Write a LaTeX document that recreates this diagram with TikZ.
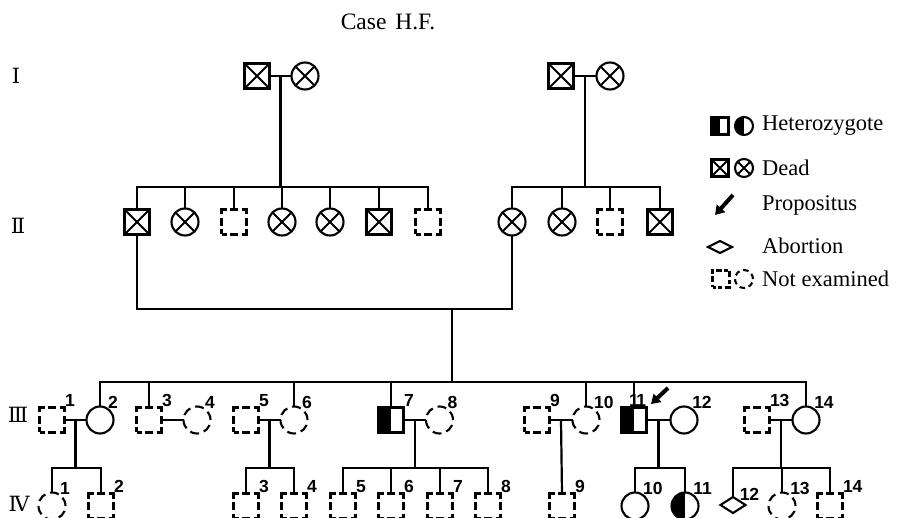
\documentclass[tikz,border=0pt]{standalone}
\usepackage{fontspec}
\setmainfont{Liberation Serif}
\newfontfamily\numfont{Liberation Sans}
\newfontfamily\romfont{DejaVu Serif}
\usetikzlibrary{calc,arrows.meta,shapes.geometric}

\tikzset{
  person/.style={draw, line width=2.1pt, inner sep=0pt, outer sep=0pt},
  male/.style={person, rectangle, minimum size=25pt},
  female/.style={person, circle, minimum size=27pt},
  xcross/.style={path picture={\draw[line width=1.8pt]
      (path picture bounding box.north west)--(path picture bounding box.south east)
      (path picture bounding box.north east)--(path picture bounding box.south west);}},
  halfblack/.style={path picture={\fill (path picture bounding box.south west) rectangle (path picture bounding box.north);}},
  deadm/.style={male, xcross, line width=2.8pt},
  deadf/.style={female, xcross},
  hetm/.style={male, halfblack},
  hetf/.style={female, halfblack},
  nexm/.style={male, dash pattern=on 10pt off 3.5pt on 8pt off 3.5pt, dash phase=5pt},
  nexf/.style={female, dash pattern=on 9pt off 5.1pt},
  abort/.style={person, diamond, aspect=1.5, minimum width=25pt, minimum height=16pt},
  num/.style={font=\numfont\bfseries\fontsize{17.5}{18}\selectfont, inner sep=0.3pt},
  link/.style={line width=2.2pt},
  prop/.style={line width=4pt, -{Triangle[width=11pt,length=9pt]}},
  gen/.style={font=\romfont\fontsize{21}{22}\selectfont, inner sep=0pt},
  title/.style={font=\fontsize{23.5}{26}\selectfont, inner sep=0pt},
  % legend
  keym/.style={person, rectangle, minimum size=17pt},
  keyf/.style={person, circle, minimum size=18pt},
  keytext/.style={font=\fontsize{22.5}{24}\selectfont, anchor=west, inner sep=0pt},
}

\begin{document}
\begin{tikzpicture}[x=1pt, y=-1pt]
\useasboundingbox (0,0) rectangle (900,518);

\node[title] (title) at (388,22) {Case\hspace{3pt} H.F.};

% generations
\node[gen] (gI) at (16,76) {Ⅰ};
\node[gen] (gII) at (18,226) {Ⅱ};
\node[gen] (gIII) at (18,415) {Ⅲ};
\node[gen] (gIV) at (19,504) {Ⅳ};

% I
\node[deadm] (Ia) at (257,76) {};
\node[deadf] (Ib) at (305,76) {};
\node[deadm] (Ic) at (561,76) {};
\node[deadf] (Id) at (610,76) {};
\draw[link] (Ia) -- (Ib);
\draw[link] (Ic) -- (Id);
\coordinate (mIl) at ($(Ia.east)!.5!(Ib.west)$);
\coordinate (mIr) at ($(Ic.east)!.5!(Id.west)$);
\coordinate (sII) at (0,187);

% II
\node[deadm] (IIa) at (137,222) {};
\node[deadf] (IIb) at (185,222) {};
\node[nexm] (IIc) at (234,222) {};
\node[deadf] (IId) at (282,222) {};
\node[deadf] (IIe) at (330,222) {};
\node[deadm] (IIf) at (379,222) {};
\node[nexm] (IIg) at (428,222) {};
\node[deadf] (IIh) at (512,222) {};
\node[deadf] (IIi) at (562,222) {};
\node[nexm] (IIj) at (610,222) {};
\node[deadm] (IIk) at (660,222) {};
\draw[link] (mIl) -- (mIl |- sII);
\draw[link] (mIr) -- (mIr |- sII);
\draw[link] (IIa.north) |- (mIl |- sII) -| (IIg.north);
\draw[link] (IIh.north) |- (mIr |- sII) -| (IIk.north);
\foreach \c in {IIb,IIc,IId,IIe,IIf,IIi,IIj}
  \draw[link] (\c.north) -- (\c.north |- sII);

\coordinate (mII) at (452,309);
\coordinate (sIII) at (452,382);
\draw[link] (IIa.south) |- (mII) -| (IIh.south);
\draw[link] (mII) -- (sIII);

% III
\node[nexm, label={[num]north east:1}] (III1) at (52,420) {};
\node[female, label={[num]55:2}] (III2) at (100,420) {};
\node[nexm, label={[num]north east:3}] (III3) at (149,420) {};
\node[nexf, label={[num]55:4}] (III4) at (197,420) {};
\node[nexm, label={[num]north east:5}] (III5) at (246,420) {};
\node[nexf, label={[num]55:6}] (III6) at (294,420) {};
\node[hetm, label={[num]north east:7}] (III7) at (391,420) {};
\node[nexf, label={[num]55:8}] (III8) at (439.5,420) {};
\node[nexm, label={[num]north east:9}] (III9) at (537,420) {};
\node[nexf, label={[num]55:10}] (III10) at (586,420) {};
\node[hetm, label={[num,anchor=south east]north east:1\kern-2.5pt 1}] (III11) at (634,420) {};
\node[female, label={[num]55:12}] (III12) at (684,420) {};
\node[nexm, label={[num]north east:13}] (III13) at (757,420) {};
\node[female, label={[num]55:14}] (III14) at (806,420) {};
\draw[link] (III2.north) |- (sIII) -| (III14.north);
\foreach \c in {III3,III6,III7,III10,III11}
  \draw[link] (\c.north) -- (\c.north |- sIII);
\foreach \a/\b in {1/2,3/4,5/6,7/8,9/10,11/12,13/14} {
  \draw[link] (III\a.east) -- (III\b.west);
  \coordinate (m\a) at ($(III\a.east)!.5!(III\b.west)$);
}
\coordinate (sIV) at (0,468);

% propositus
\coordinate (propS) at (668,388);
\coordinate (propE) at (651,404);
\draw[prop] (propS) -- (propE);

% IV
\node[nexf, label={[num]55:1}] (IV1) at (52,506) {};
\node[nexm, label={[num]north east:2}] (IV2) at (101,506) {};
\node[nexm, label={[num]north east:3}] (IV3) at (246,506) {};
\node[nexm, label={[num]north east:4}] (IV4) at (294,506) {};
\node[nexm, label={[num]north east:5}] (IV5) at (343,506) {};
\node[nexm, label={[num]north east:6}] (IV6) at (391,506) {};
\node[nexm, label={[num]north east:7}] (IV7) at (440,506) {};
\node[nexm, label={[num]north east:8}] (IV8) at (488,506) {};
\node[nexm, label={[num]north east:9}] (IV9) at (562,506) {};
\node[female, label={[num]55:10}] (IV10) at (635,506) {};
\node[hetf, label={[num]55:11}] (IV11) at (685,506) {};
\node[abort, label={[num]north east:12}] (IV12) at (733,505) {};
\node[nexf, label={[num]55:13}] (IV13) at (782,506) {};
\node[nexm, label={[num]north east:14}] (IV14) at (830,506) {};
\foreach \m in {1,5,7,11,13}
  \draw[link] (m\m) -- (m\m |- sIV);
\draw[link] (IV1.north) |- (m1 |- sIV) -| (IV2.north);
\draw[link] (IV3.north) |- (m5 |- sIV) -| (IV4.north);
\draw[link] (IV5.north) |- (m7 |- sIV) -| (IV8.north);
\draw[link] (IV10.north) |- (m11 |- sIV) -| (IV11.north);
\draw[link] (IV12.north) |- (m13 |- sIV) -| (IV14.north);
\foreach \c in {IV6,IV7,IV13}
  \draw[link] (\c.north) -- (\c.north |- sIV);
\draw[link] (m9) -- (IV9.north);

% legend
\node[keym, halfblack] (keyHetM) at (720,126) {};
\node[keyf, halfblack] (keyHetF) at (744,126) {};
\node[keytext] (tHet) at (762,126) {Heterozygote};
\node[keym, xcross, line width=2.6pt] (keyDeadM) at (720,168) {};
\node[keyf, xcross] (keyDeadF) at (744,168) {};
\node[keytext] (tDead) at (762,168) {Dead};
\coordinate (keyPropS) at (733,195);
\coordinate (keyPropE) at (715,215);
\draw[prop] (keyPropS) -- (keyPropE);
\node[keytext] (tProp) at (762,205) {Propositus};
\node[person, diamond, aspect=2, minimum width=24pt, minimum height=12pt] (keyAbort) at (720,247) {};
\node[keytext] (tAbort) at (762,246) {Abortion};
\node[keym, dash pattern=on 6pt off 2.5pt on 4pt off 2.5pt, dash phase=3pt] (keyNexM) at (721,279) {};
\node[keyf, dash pattern=on 5.5pt off 3.9pt] (keyNexF) at (744,279) {};
\node[keytext] (tNex) at (762,279) {Not examined};
\end{tikzpicture}
\end{document}
